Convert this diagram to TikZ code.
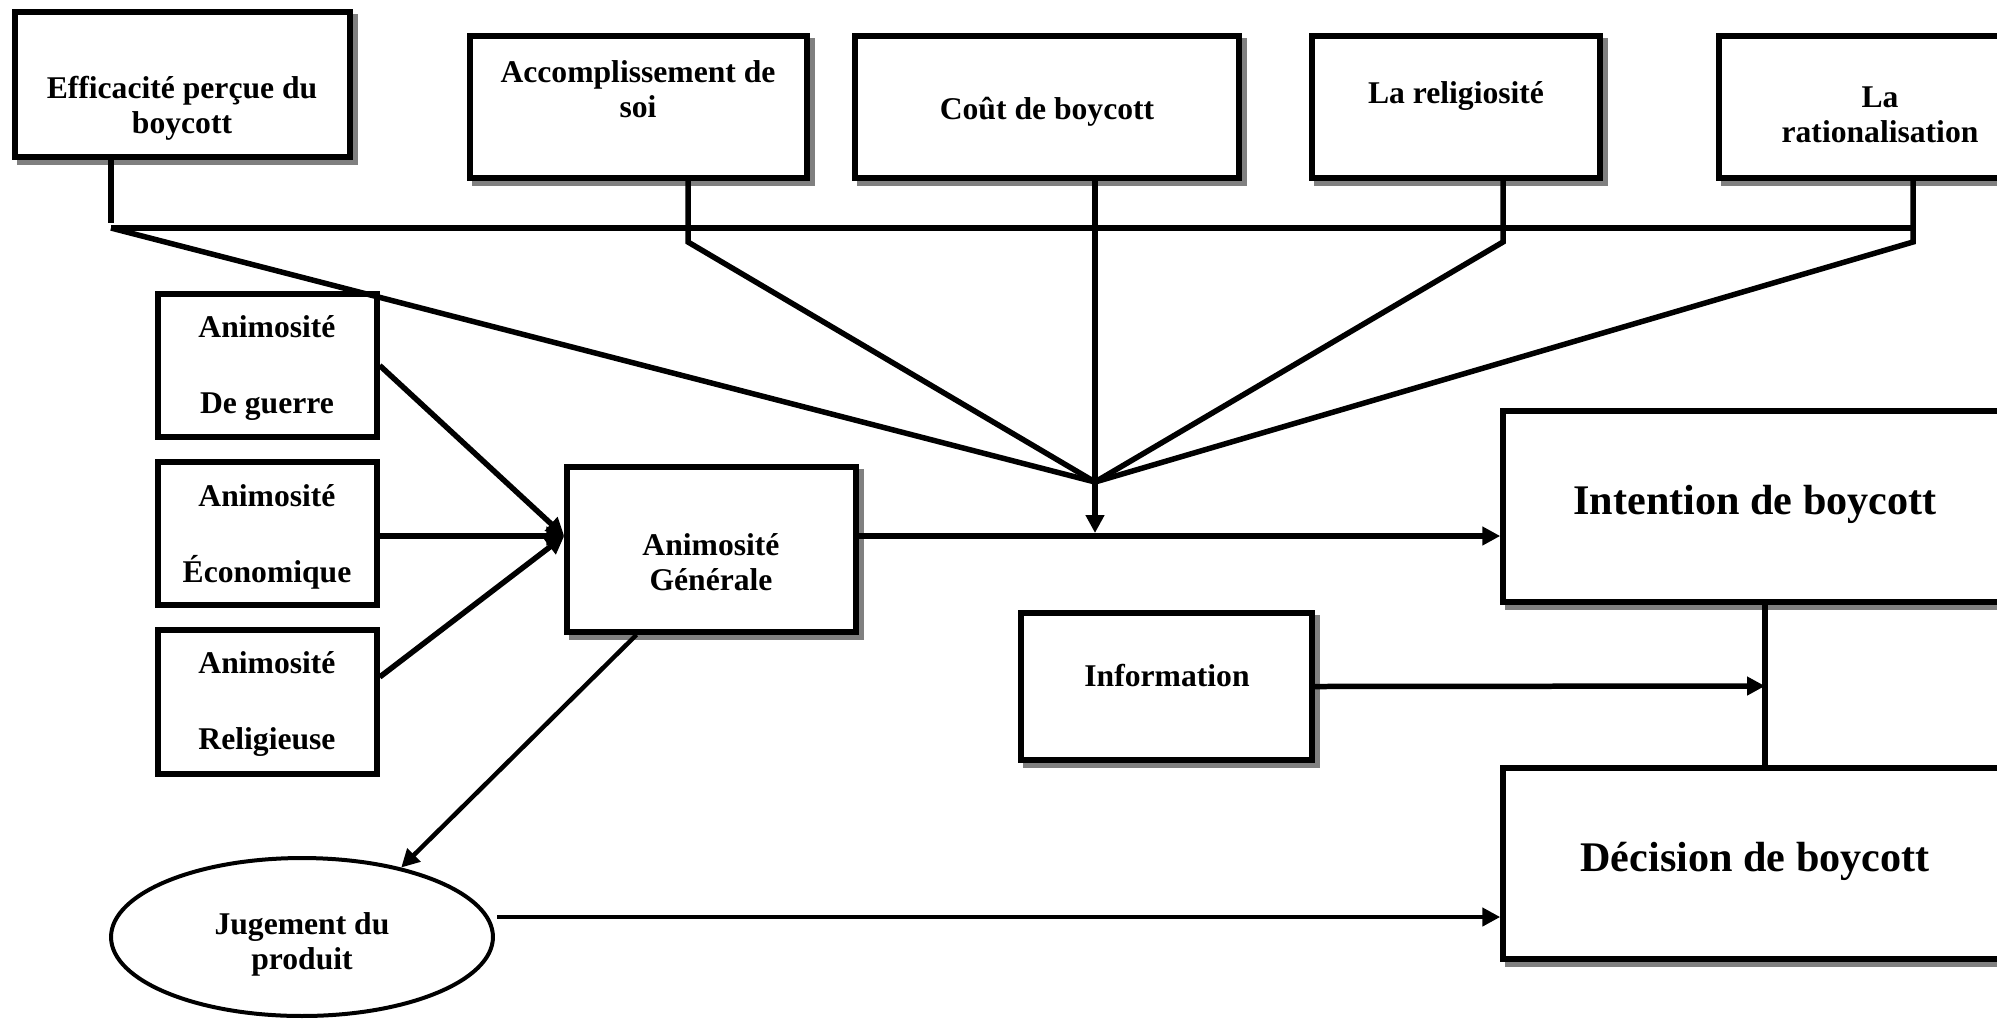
\documentclass[tikz,border=0pt]{standalone}
\usepackage{fontspec}
\setmainfont{Liberation Serif}
\usetikzlibrary{arrows.meta,shadows,fit,shapes.geometric}
\begin{document}
\begin{tikzpicture}[x=0.02cm,y=-0.02cm,
  box/.style={draw, line width=0.11cm, fill=white, inner sep=0pt, rectangle},
  sbox/.style={box, general shadow={fill=black!50, draw=black!50, line width=0.11cm, shadow xshift=0.1cm, shadow yshift=-0.1cm}},
  lbl/.style={font=\bfseries\fontsize{18}{20}\selectfont, align=center, inner sep=0pt, yshift=-0.08cm},
  big/.style={font=\bfseries\fontsize{24}{28}\selectfont, align=center, inner sep=0pt, yshift=-0.08cm},
  ln/.style={line width=0.11cm},
  thn/.style={line width=0.09cm},
  tip/.style={-{Triangle[length=0.36cm,width=0.36cm]}},
  arr/.style={ln, tip},
]
\useasboundingbox (0,0) rectangle (1997,1018);
\fill[white] (0,0) rectangle (1997,1018);
\clip (0,0) rectangle (1997,1018);

% top row
\node[sbox, fit={(15,12) (350,157)}] (eff) {};
\node[lbl] (efft) at (182,104) {Efficacité perçue du\\boycott};
\node[sbox, fit={(470,36) (807,178)}] (acc) {};
\node[lbl] (acct) at (638,85) {Accomplissement de\\soi};
\node[sbox, fit={(855,36) (1239,178)}] (cout) {};
\node[lbl] (coutt) at (1047,108) {Coût de boycott};
\node[sbox, fit={(1312,36) (1600,178)}] (rel) {};
\node[lbl] (relt) at (1456,92) {La religiosité};
\node[sbox, fit={(1719,36) (2041,178)}] (rat) {};
\node[lbl] (ratt) at (1880,111) {La\\rationalisation};

% left boxes
\node[box, fit={(158,294) (377,437)}] (war) {};
\node[lbl] (wart) at (267,364) {Animosité\\[23pt]De guerre};
\node[box, fit={(158,462) (377,605)}] (eco) {};
\node[lbl] (ecot) at (267,533) {Animosité\\[23pt]Économique};
\node[box, fit={(158,630) (377,774)}] (relg) {};
\node[lbl] (relgt) at (267,700) {Animosité\\[23pt]Religieuse};

% middle
\node[sbox, fit={(567,467) (856,632)}] (gen) {};
\node[lbl] (gent) at (711,558) {Animosité\\Générale};
\node[sbox, fit={(1021,613) (1312,760)}] (info) {};
\node[lbl] (infot) at (1167,672) {Information};

% right
\node[sbox, fit={(1503,411) (2007,602)}] (int) {};
\node[big] (intt) at (1755,500) {Intention de boycott};
\node[sbox, fit={(1503,768) (2007,959)}] (dec) {};
\node[big] (dect) at (1755,857) {Décision de boycott};

% ellipse
\node[draw, ellipse, line width=0.08cm, fill=white, inner sep=0pt, minimum width=7.64cm, minimum height=3.16cm] (jug) at (302,937) {};
\node[lbl] (jugt) at (302,940) {Jugement du\\produit};

% coordinates
\coordinate (H) at (111,228);
\coordinate (A) at (688,242);
\coordinate (B) at (1503,242);
\coordinate (R) at (1913,242);
\coordinate (J) at (1095,482);
\coordinate (M) at (1095,536);
\coordinate (Mt) at (1095,533);
\coordinate (V) at (1765,686);
\coordinate (jd) at (497,917);

% moderator lines
\draw[ln] (eff.south -| H) -- ++(0,63);
\draw[ln] (H) -- (H -| R);
\draw[ln] (H) -- (J);
\draw[ln] (acc.south -| A) -- (A) -- (J);
\draw[ln] (rel.south -| B) -- (B) -- (J);
\draw[ln] (rat.south -| R) -- (R) -- (J);
\draw[arr] (cout.south -| J) -- (Mt);

% animosity arrows
\draw[arr] (war.east) -- (gen.west |- M);
\draw[arr] (eco.east |- M) -- (gen.west |- M);
\draw[arr] ([yshift=0.5cm]relg.east) -- (gen.west |- M);

% main flow
\draw[arr] (gen.east |- M) -- (int.west |- M);
\draw[thn, tip] ([xshift=-1.5cm]gen.south) -- (jug.35);
\draw[thn, tip] (jd) -- (jd -| dec.west);
\draw[arr] (info.east) -- (V);
\draw[ln] (int.south -| V) -- (dec.north -| V);
\end{tikzpicture}
\end{document}
